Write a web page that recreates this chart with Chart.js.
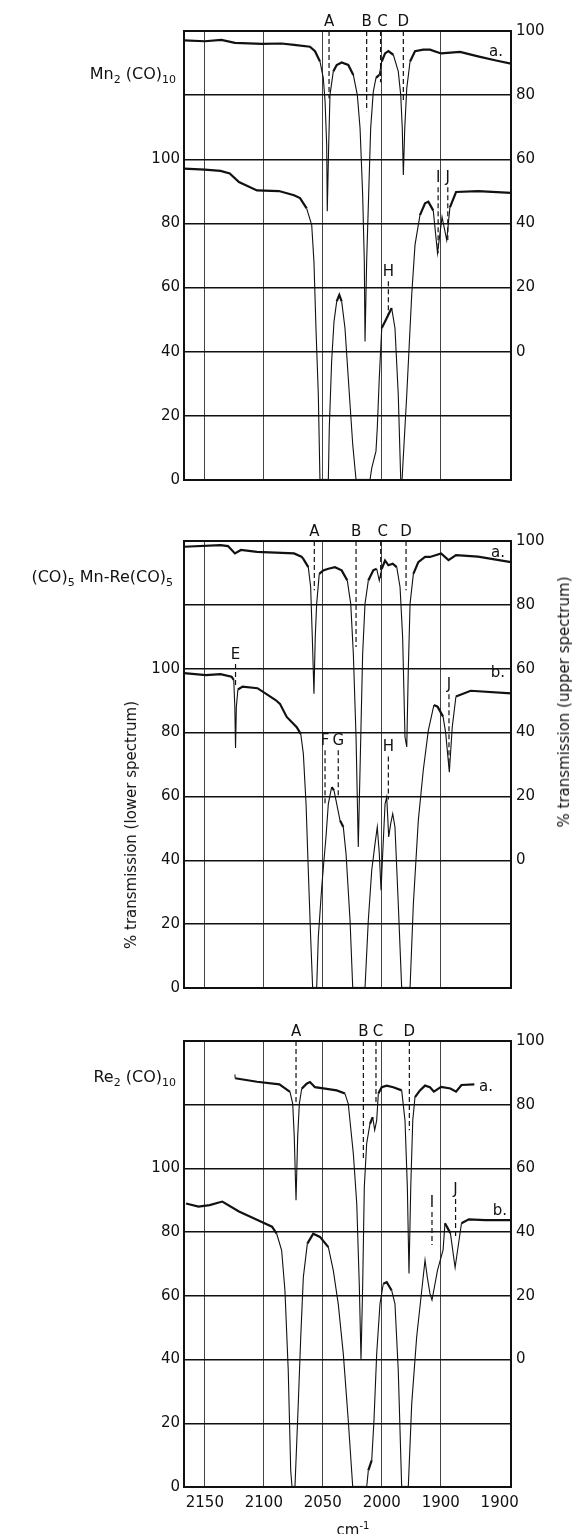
<!DOCTYPE html>
<html>
<head>
<meta charset="utf-8">
<script src="https://cdn.jsdelivr.net/npm/chart.js@4.4.0/dist/chart.umd.min.js"></script>
<style>
  body { margin: 0; background: #fff; }
  #page { position: relative; width: 574px; height: 1534px; font-family: 'DejaVu Sans', sans-serif; color: #111; }
  canvas { position: absolute; left: 0; }
  .lbl { position: absolute; font-size: 15px; line-height: 16px; white-space: nowrap; transform: translate(-50%, -50%); }
  .cmp { position: absolute; font-size: 16px; line-height: 18px; white-space: nowrap; transform: translateY(-50%); text-align: right; }
  .rot { position: absolute; font-size: 15px; white-space: nowrap; transform: translate(-50%, -50%) rotate(-90deg); }
  sub { font-size: 11px; vertical-align: -4px; }
  sup { font-size: 10px; vertical-align: 6px; }
</style>
</head>
<body>
<div id="page">
  <canvas id="c1" width="574" height="495" style="top:0px"></canvas>
  <canvas id="c2" width="574" height="495" style="top:510px"></canvas>
  <canvas id="c3" width="574" height="524" style="top:1010px"></canvas>

  <div class="cmp" style="right:398px;top:77px">Mn<sub>2</sub> (CO)<sub>10</sub></div>
  <div class="cmp" style="right:401px;top:580px">(CO)<sub>5</sub> Mn-Re(CO)<sub>5</sub></div>
  <div class="cmp" style="right:398px;top:1080px">Re<sub>2</sub> (CO)<sub>10</sub></div>

  <div class="lbl" style="left:496px;top:51px">a.</div>
  <div class="lbl" style="left:498px;top:552px">a.</div>
  <div class="lbl" style="left:498px;top:672px">b.</div>
  <div class="lbl" style="left:486px;top:1086px">a.</div>
  <div class="lbl" style="left:500px;top:1210px">b.</div>

  <div class="rot" style="left:131px;top:825px">% transmission (lower spectrum)</div>
  <div class="rot" style="left:564px;top:702px">% transmission (upper spectrum)</div>
  <div class="lbl" style="left:353px;top:1528px">cm<sup>-1</sup></div>
</div>

<script>
// axes
const X_MIN = 1890.4, X_MAX = 2167.7;
const xTickValues = [2150, 2100, 2050, 2000, 1950, 1900];
const xTickLabels = ['2150', '2100', '2050', '2000', '1900', '1900'];

// Mn2(CO)10 - upper (a) read on right axis, lower (b) on left axis
const mn2Upper = [
  [2167.7, 97.1], [2150, 96.8], [2136, 97.2], [2124.5, 96.3], [2101.6, 96.0], [2085, 96.1], [2074.4, 95.7],
  [2060.9, 95.1], [2056.6, 93.7], [2052.4, 90.5], [2049.6, 85.4], [2048.1, 78.2], [2046.7, 64.5],
  [2046.2, 43.8], [2045.0, 64.5], [2043.9, 80.0], [2041.1, 87.4], [2038.2, 89.4], [2034.0, 90.2],
  [2028.4, 89.4], [2024.1, 86.3], [2020.7, 80.0], [2018.4, 69.7], [2016.2, 49.0], [2014.8, 28.3],
  [2014.2, 3.2], [2012.8, 28.3], [2011.1, 49.0], [2009.4, 69.7], [2007.2, 81.0], [2004.9, 85.4],
  [2002.1, 86.3], [2000.0, 90.5], [1997.2, 93.0], [1994.4, 93.7], [1990.2, 92.6], [1986.0, 87.4],
  [1983.9, 80.0], [1982.6, 69.7], [1981.7, 55.1], [1980.5, 69.7], [1978.8, 82.1], [1976.0, 90.5],
  [1971.8, 93.7], [1964.8, 94.2], [1959.1, 94.2], [1949.7, 93.0], [1933.6, 93.5], [1918.4, 92.1],
  [1903.1, 90.8], [1890.4, 89.8]
];
const mn2Lower = [
  [2167.7, 97.1], [2150, 96.8], [2136.7, 96.4], [2128.9, 95.6], [2121.1, 92.9], [2105.8, 90.3],
  [2087.2, 90.1], [2074.4, 88.8], [2069.3, 87.9], [2063.7, 84.7], [2059.4, 79.5], [2057.5, 68.1],
  [2055.8, 47.4], [2053.8, 26.6], [2052.4, 0], [2045.3, 0], [2044.5, 16.2], [2042.5, 37.0],
  [2040.5, 49.4], [2038.2, 55.7], [2036.0, 57.7], [2034.0, 55.7], [2031.2, 47.4], [2028.4, 31.8],
  [2024.6, 11.0], [2021.8, 0], [2010.0, 0], [2008.5, 3.7], [2004.9, 9.0], [2003.8, 16.2],
  [2002.1, 31.8], [2000.0, 47.4], [1997.2, 49.4], [1994.4, 51.5], [1991.6, 53.6], [1988.8, 47.4],
  [1986.0, 26.6], [1983.9, 0], [1982.8, 0], [1978.8, 26.6], [1974.6, 57.7], [1971.8, 73.3],
  [1967.6, 82.6], [1963.3, 86.3], [1960.5, 86.8], [1956.3, 84.0], [1952.7, 70.7], [1948.9, 82.0],
  [1944.9, 74.8], [1942.2, 85.0], [1937.0, 89.8], [1918.4, 90.1], [1890.4, 89.5]
];
const mn2Marks = [
  [2044.7, 140, 119, 'A'], [2012.8, 140, 115, 'B'], [2001.0, 140, 124, 'C'], [1981.7, 140, 118, 'D'],
  [1994.4, 62, 51.4, 'H'], [1952.2, 91.3, 70.7, 'I'], [1944.0, 91.3, 74.8, 'J']
];

// (CO)5Mn-Re(CO)5
const mnreUpper = [
  [2167.7, 98.2], [2136.7, 98.7], [2130.4, 98.4], [2124.5, 96.1], [2119.4, 97.2], [2105.8, 96.6],
  [2074.4, 96.1], [2068.1, 95.1], [2066.5, 94.4], [2062.3, 91.8], [2060.3, 85.6], [2058.9, 69.9],
  [2057.5, 52.2], [2056.4, 69.9], [2055.2, 80.3], [2053.0, 89.7], [2049.6, 90.8], [2045.3, 91.3],
  [2039.7, 91.8], [2034.0, 90.8], [2029.2, 87.6], [2026.3, 80.3], [2024.1, 64.7], [2021.8, 38.6],
  [2019.9, 4.2], [2017.8, 38.6], [2016.2, 64.7], [2014.2, 80.3], [2011.4, 87.6], [2007.2, 90.8],
  [2004.3, 91.3], [2002.1, 87.6], [2000.0, 91.3], [1997.2, 93.9], [1994.4, 92.4], [1990.7, 92.9],
  [1987.3, 91.8], [1984.5, 85.6], [1982.3, 69.9], [1980.3, 38.6], [1978.8, 35.5], [1977.5, 59.5],
  [1976.0, 80.3], [1973.2, 89.7], [1969.0, 93.4], [1963.3, 95.0], [1959.1, 95.0], [1949.7, 96.1],
  [1943.4, 94.0], [1937.0, 95.6], [1918.4, 95.1], [1890.4, 93.4]
];
const mnreLower = [
  [2167.7, 98.6], [2149.1, 98.0], [2136.7, 98.3], [2127.4, 97.5], [2125.5, 96.5], [2124.6, 88.0],
  [2124.0, 75.2], [2123.3, 88.0], [2122.0, 93.5], [2118.0, 94.4], [2105.4, 93.9], [2090.0, 90.2],
  [2086.3, 89.0], [2080.6, 84.9], [2072.1, 81.7], [2068.7, 79.6], [2066.5, 73.4], [2064.2, 57.7],
  [2062.3, 36.9], [2060.3, 16.0], [2058.6, 0], [2055.2, 0], [2053.8, 16.0], [2050.9, 31.6],
  [2049.0, 40.0], [2047.3, 47.3], [2045.3, 57.7], [2042.5, 62.9], [2040.5, 61.9], [2038.2, 57.7],
  [2035.4, 52.5], [2032.6, 50.4], [2030.3, 42.1], [2026.9, 21.2], [2024.6, 0], [2014.2, 0],
  [2011.4, 21.2], [2008.5, 36.9], [2005.7, 45.2], [2003.8, 50.4], [2002.1, 42.1], [2000.6, 30.6],
  [1999.2, 42.1], [1997.2, 57.7], [1995.8, 59.8], [1994.1, 47.3], [1992.4, 51.5], [1990.7, 54.6],
  [1988.8, 50.4], [1986.0, 26.4], [1983.1, 0], [1976.0, 0], [1973.2, 26.4], [1969.0, 52.5],
  [1964.8, 68.2], [1960.5, 80.7], [1955.8, 88.6], [1952.7, 88.1], [1948.0, 85.0], [1945.8, 79.9],
  [1942.7, 67.6], [1940.2, 81.8], [1937.1, 91.3], [1924.6, 93.1], [1890.4, 92.3]
];
const mnreMarks = [
  [2057.2, 140, 124.6, 'A'], [2021.8, 140, 106.8, 'B'], [2000.9, 140, 127.8, 'C'], [1979.4, 140, 124.6, 'D'],
  [2124.0, 101.5, 94.4, 'E'], [2048.1, 74.5, 57.7, 'F'], [2036.9, 74.5, 60, 'G'], [1994.4, 72.5, 59, 'H'],
  [1943.0, 92, 70, 'J']
];

// Re2(CO)10
const re2Upper = [
  [2124.5, 89.5], [2124.3, 88.3], [2105.8, 87.2], [2086.8, 86.4], [2083.5, 85.5], [2077.8, 84.0],
  [2075.5, 80.3], [2074.2, 69.9], [2072.7, 50.0], [2071.3, 69.9], [2069.9, 80.3], [2067.9, 85.0],
  [2063.7, 86.6], [2060.9, 87.1], [2056.6, 85.5], [2046.7, 85.0], [2038.2, 84.5], [2031.2, 83.5],
  [2028.4, 80.3], [2024.1, 64.6], [2021.2, 48.9], [2019.0, 22.8], [2017.6, 0], [2016.2, 22.8],
  [2014.8, 54.2], [2012.8, 67.8], [2010.0, 74.0], [2007.7, 76.1], [2006.0, 72.0], [2004.3, 75.1],
  [2002.9, 83.5], [2000.0, 85.5], [1995.8, 86.0], [1990.2, 85.5], [1983.1, 84.5], [1980.3, 75.1],
  [1978.3, 54.2], [1976.9, 27.0], [1975.4, 54.2], [1973.7, 75.1], [1971.8, 82.4], [1967.6, 84.5],
  [1963.3, 86.0], [1959.1, 85.5], [1955.8, 84.1], [1949.7, 85.6], [1941.8, 85.1], [1937.0, 84.1],
  [1932.4, 86.2], [1921.5, 86.4]
];
const re2Lower = [
  [2166.0, 89.0], [2155.4, 88.0], [2146.0, 88.5], [2135.2, 89.6], [2121.1, 86.5], [2105.4, 83.8],
  [2093.1, 81.7], [2089.1, 79.5], [2084.9, 74.3], [2082.1, 61.7], [2079.3, 36.6], [2077.2, 5.2],
  [2076.1, 0], [2073.6, 0], [2070.8, 26.1], [2068.7, 47.1], [2066.5, 65.9], [2063.1, 76.4],
  [2058.1, 79.5], [2052.4, 78.5], [2045.3, 75.3], [2041.1, 68.0], [2036.9, 57.5], [2032.6, 41.8],
  [2028.4, 20.9], [2024.6, 0], [2012.8, 0], [2011.4, 5.2], [2008.5, 8.4], [2006.6, 20.9],
  [2004.3, 41.8], [2001.5, 57.5], [1998.7, 63.8], [1995.8, 64.3], [1991.6, 61.7], [1988.8, 57.5],
  [1986.0, 36.6], [1983.1, 0], [1977.5, 0], [1974.6, 26.1], [1970.4, 47.1], [1966.1, 61.7],
  [1963.3, 71.2], [1961.4, 65.9], [1959.1, 60.7], [1957.4, 58.7], [1952.7, 68.1], [1948.0, 74.4],
  [1946.4, 82.8], [1941.8, 79.7], [1937.8, 68.9], [1932.4, 82.8], [1926.2, 84.0], [1912.2, 83.8],
  [1891.0, 83.8]
];
const re2Marks = [
  [2072.7, 140, 120.5, 'A'], [2015.6, 140, 102.6, 'B'], [2004.9, 140, 120.3, 'C'], [1976.6, 140, 112, 'D'],
  [1957.4, 86.3, 76, 'I'], [1937.4, 90.4, 78.5, 'J']
];

Chart.defaults.font.family = "'DejaVu Sans', sans-serif";
Chart.defaults.color = '#111';

const INK = '#111';

// frame round the plot + letters over the marker lines
const panelDecor = {
    id: 'panelDecor',
    afterDraw(chart, args, opts) {
        const { ctx, chartArea: a, scales } = chart;
        ctx.save();
        ctx.strokeStyle = INK;
        ctx.lineWidth = 2;
        ctx.strokeRect(a.left, a.top, a.right - a.left, a.bottom - a.top);
        ctx.fillStyle = INK;
        ctx.font = "15px 'DejaVu Sans', sans-serif";
        ctx.textAlign = 'center';
        ctx.textBaseline = 'middle';
        opts.marks.forEach(m => {
            const x = scales.x.getPixelForValue(m[0]);
            const y = scales.y.getPixelForValue(m[1]);
            ctx.fillText(m[3], x + (m[3] === 'C' ? 2 : 0), y - 9);
        });
        ctx.restore();
    }
};

// pen trace: heavy on the slow parts, thin on the fast slopes
function penWidth(c) {
    const dx = Math.abs(c.p1.x - c.p0.x), dy = Math.abs(c.p1.y - c.p0.y);
    return dy > 3 * dx ? 1.1 : 2.2;
}

function spectrum(points, axis) {
    return {
        data: points.map(p => ({ x: p[0], y: p[1] })),
        yAxisID: axis,
        borderColor: INK,
        borderWidth: 1.8,
        segment: { borderWidth: penWidth },
        pointRadius: 0,
        tension: 0,
        fill: false
    };
}

function marker(m) {
    return {
        data: [{ x: m[0], y: m[1] }, { x: m[0], y: m[2] }],
        yAxisID: 'y',
        borderColor: INK,
        borderWidth: 1.2,
        borderDash: [5, 3],
        pointRadius: 0
    };
}

function drawPanel(id, upper, lower, marks, axisHeight, withLabels) {
    new Chart(document.getElementById(id), {
        type: 'line',
        data: {
            datasets: [spectrum(upper, 'y2'), spectrum(lower, 'y'), ...marks.map(marker)]
        },
        options: {
            responsive: false,
            animation: false,
            layout: { padding: { top: 31, left: 0, right: 0, bottom: 0 } },
            plugins: { legend: { display: false }, tooltip: { enabled: false }, panelDecor: { marks } },
            scales: {
                x: {
                    type: 'linear', reverse: true, min: X_MIN, max: X_MAX,
                    afterBuildTicks: s => { s.ticks = xTickValues.map(v => ({ value: v })); },
                    afterFit: s => { s.height = axisHeight; },
                    border: { display: false },
                    grid: {
                        drawTicks: false, lineWidth: 1,
                        color: c => (c.tick && c.tick.value === 1900) ? 'rgba(0,0,0,0)' : '#444'
                    },
                    ticks: {
                        display: withLabels, autoSkip: false, maxRotation: 0, padding: 7,
                        font: { size: 15 }, color: INK,
                        callback: (v, i) => xTickLabels[i]
                    }
                },
                y: {
                    min: 0, max: 140,
                    afterFit: s => { s.width = 184; },
                    border: { display: false },
                    grid: { drawTicks: false, color: INK, lineWidth: 1.4 },
                    ticks: { stepSize: 20, padding: 4, font: { size: 15 }, color: INK,
                             callback: v => v <= 100 ? String(v) : '' }
                },
                y2: {
                    position: 'right', min: -40, max: 100,
                    afterFit: s => { s.width = 63; },
                    border: { display: false },
                    grid: { display: false, drawTicks: false },
                    ticks: { stepSize: 20, padding: 5, font: { size: 15 }, color: INK,
                             callback: v => v >= 0 ? String(v) : '' }
                }
            }
        },
        plugins: [panelDecor]
    });
}

drawPanel('c1', mn2Upper, mn2Lower, mn2Marks, 15, false);
drawPanel('c2', mnreUpper, mnreLower, mnreMarks, 17, false);
drawPanel('c3', re2Upper, re2Lower, re2Marks, 47, true);
</script>
</body>
</html>
